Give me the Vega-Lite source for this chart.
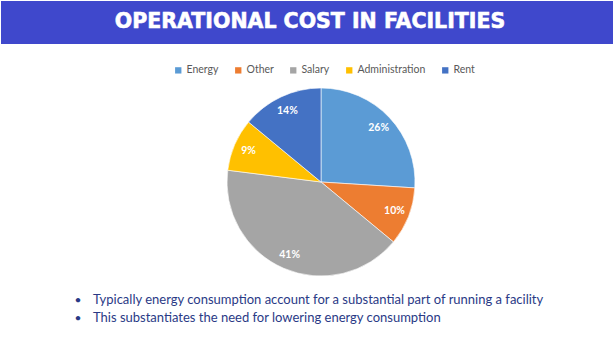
{
  "$schema": "https://vega.github.io/schema/vega-lite/v6.json",
  "width": 613,
  "height": 338,
  "autosize": {"type": "fit", "contains": "padding"},
  "padding": 0,
  "background": "white",
  "config": {"view": {"stroke": null}},
  "datasets": {
    "costs": [
      {"category": "Energy", "share": 26, "label": "26%", "order": 1},
      {"category": "Other", "share": 10, "label": "10%", "order": 2},
      {"category": "Salary", "share": 41, "label": "41%", "order": 3},
      {"category": "Administration", "share": 9, "label": "9%", "order": 4},
      {"category": "Rent", "share": 14, "label": "14%", "order": 5}
    ],
    "notes": [
      {"title": "OPERATIONAL COST IN FACILITIES",
       "b1": "Typically energy consumption account for a substantial part of running a facility",
       "b2": "This substantiates the need for lowering energy consumption"}
    ]
  },
  "layer": [
    {
      "data": {"name": "notes"},
      "mark": {"type": "rect", "x": 0, "x2": 613, "y": 0, "y2": 43, "color": "#3F48CC"},
      "encoding": {}
    },
    {
      "data": {"name": "notes"},
      "mark": {"type": "rule", "x": 0, "x2": 613, "y": 43.5, "y2": 43.5, "color": "#9AA3EC", "strokeWidth": 1.5},
      "encoding": {}
    },
    {
      "data": {"name": "notes"},
      "mark": {"type": "text", "x": 309, "y": 21, "align": "center", "baseline": "middle", "font": "DejaVu Sans", "fontSize": 20.5, "fontWeight": "bold", "color": "white", "stroke": "white", "strokeWidth": 0.6},
      "encoding": {"text": {"field": "title"}}
    },
    {
      "data": {"name": "costs"},
      "mark": {"type": "arc", "x": 320, "y": 181, "outerRadius": 94, "stroke": "white", "strokeWidth": 0.6},
      "encoding": {
        "theta": {"field": "share", "type": "quantitative", "stack": true},
        "order": {"field": "order", "type": "quantitative"},
        "color": {
          "field": "category",
          "type": "nominal",
          "sort": ["Energy", "Other", "Salary", "Administration", "Rent"],
          "scale": {
            "domain": ["Energy", "Other", "Salary", "Administration", "Rent"],
            "range": ["#5B9BD5", "#ED7D31", "#A5A5A5", "#FFC000", "#4472C4"]
          },
          "legend": {
            "title": null,
            "orient": "none",
            "direction": "horizontal",
            "legendX": 172,
            "legendY": 64,
            "symbolType": "square",
            "symbolSize": 40,
            "symbolStrokeWidth": 0,
            "labelFont": "Lato",
            "labelFontSize": 10.5,
            "labelColor": "#595959",
            "columnPadding": 14,
            "labelOffset": 3
          }
        }
      }
    },
    {
      "data": {"name": "costs"},
      "mark": {"type": "text", "x": 320, "y": 181, "radius": 79, "font": "Lato", "fontSize": 10.5, "fontWeight": "bold", "color": "white"},
      "encoding": {
        "theta": {"field": "share", "type": "quantitative", "stack": true},
        "order": {"field": "order", "type": "quantitative"},
        "text": {"field": "label"}
      }
    },
    {
      "data": {"name": "notes"},
      "mark": {"type": "text", "x": 77, "y": 299, "align": "center", "baseline": "middle", "font": "Lato", "fontSize": 12, "color": "#2A3A86", "lineHeight": 18},
      "encoding": {"text": {"value": ["•", "•"]}}
    },
    {
      "data": {"name": "notes"},
      "mark": {"type": "text", "x": 92, "y": 299, "align": "left", "baseline": "middle", "font": "Lato", "fontSize": 13, "color": "#2A3A86"},
      "encoding": {"text": {"field": "b1"}}
    },
    {
      "data": {"name": "notes"},
      "mark": {"type": "text", "x": 92, "y": 317, "align": "left", "baseline": "middle", "font": "Lato", "fontSize": 13, "color": "#2A3A86"},
      "encoding": {"text": {"field": "b2"}}
    }
  ]
}
